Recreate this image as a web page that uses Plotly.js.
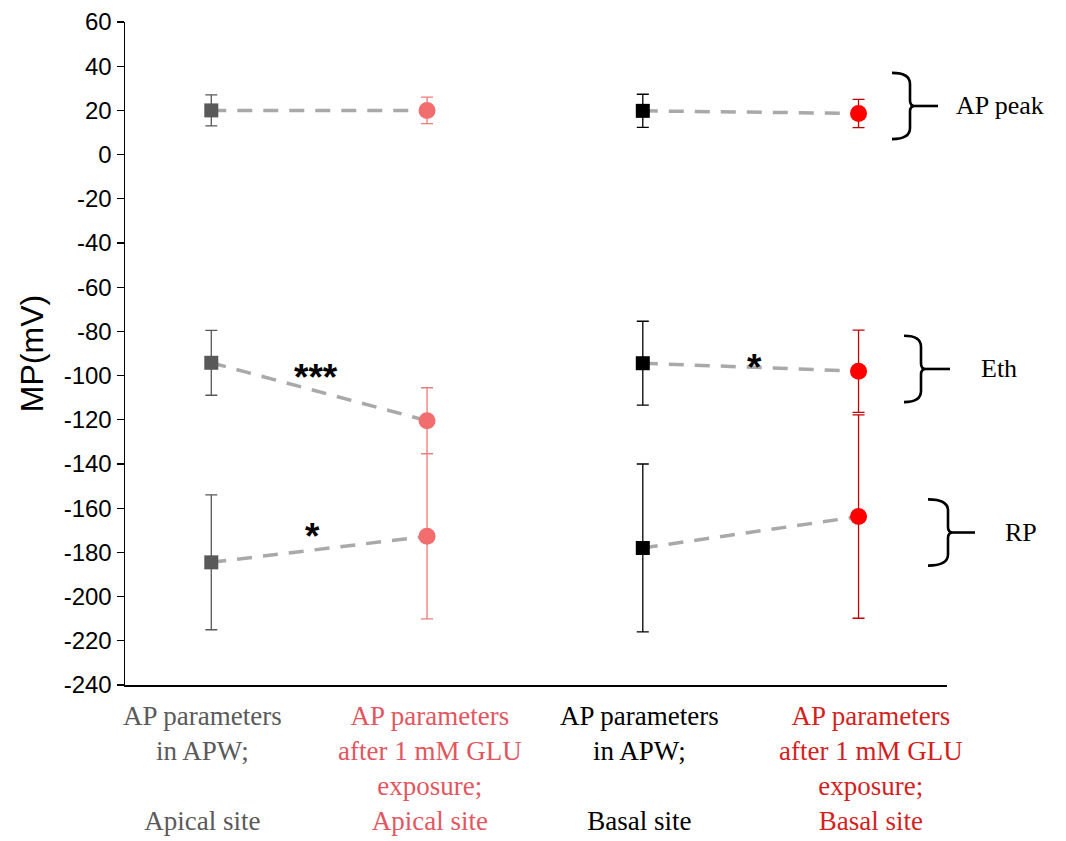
<!DOCTYPE html>
<html>
<head>
<meta charset="utf-8">
<script src="https://cdn.plot.ly/plotly-3.0.1.min.js"></script>
<style>html,body{margin:0;padding:0;background:#fff;}#chart{width:1066px;height:841px;}</style>
</head>
<body>
<div id="chart"></div>
<script>
// ---- data ----
const groups = ['Apical APW', 'Apical GLU', 'Basal APW', 'Basal GLU'];
const peakMean = [20, 20, 19.8, 18.6];
const peakErr  = [7, 6, 7.5, 6.4];
const ethMean  = [-94.2, -120.4, -94.4, -98];
const ethErr   = [14.7, 14.9, 19, 18.6];
const rpMean   = [-184.5, -172.7, -178, -163.8];
const rpErr    = [30.5, 37.4, 38, 46];

const yTickVals = [60, 40, 20, 0, -20, -40, -60, -80, -100, -120, -140, -160, -180, -200, -220, -240];
const yTickText = ['60', '40', '20', '0', '-20', '-40', '-60', '-80', '-100', '-120', '-140', '-160', '-180', '-200', '-220', '-240'];

const groupLabels = [
  ['AP parameters', 'in APW;', '\u00a0', 'Apical site'],
  ['AP parameters', 'after 1 mM GLU', 'exposure;', 'Apical site'],
  ['AP parameters', 'in APW;', '\u00a0', 'Basal site'],
  ['AP parameters', 'after 1 mM GLU', 'exposure;', 'Basal site']
];
const paramLabels = ['AP peak', 'Eth', 'RP'];
const paramBraceMid = [22, -97, -171];
const sigLabels = ['***', '*', '*'];
const sigX = [0.485, 0.469, 2.519];
const sigY = [-95.7, -168, -91.4];

// ---- styles ----
const markerColors = ['#595959', '#f26d6d', '#000000', '#ff0000'];
const errColors    = ['#595959', '#f07a7a', '#000000', '#c00000'];
const labelColors  = ['#5a5a5a', '#e2575f', '#000000', '#d41f1f'];
const symbols      = ['square', 'circle', 'square', 'circle'];
const msizes       = [14, 17, 14, 17];
const labelShift   = [-9, 3, -3, 12];

const W = 1066, H = 841;
const M = {l: 125, r: 119, t: 22, b: 156};
const plotW = W - M.l - M.r;
const px2paper = px => (px - M.l) / plotW;

const traces = [];
const means = [peakMean, ethMean, rpMean];
const pairs = [[0, 1], [2, 3]];

// dashed connecting lines
pairs.forEach(p => {
  means.forEach(m => {
    traces.push({
      x: [p[0], p[1]], y: [m[p[0]], m[p[1]]],
      mode: 'lines', type: 'scatter', hoverinfo: 'skip', showlegend: false,
      line: {color: '#a9a9a9', width: 3.5, dash: '15px,11px'}
    });
  });
});

// markers with error bars
groups.forEach((g, i) => {
  traces.push({
    name: g,
    x: [i, i, i],
    y: [peakMean[i], ethMean[i], rpMean[i]],
    mode: 'markers', type: 'scatter', showlegend: false, cliponaxis: false,
    marker: {symbol: symbols[i], size: msizes[i], color: markerColors[i]},
    error_y: {type: 'data', array: [peakErr[i], ethErr[i], rpErr[i]],
              visible: true, color: errColors[i], thickness: 1.3, width: 6}
  });
});

const annotations = [];
// category labels below axis
groupLabels.forEach((lines, i) => {
  annotations.push({
    x: i, xref: 'x', y: 0, yref: 'paper', yanchor: 'top', xanchor: 'center',
    yshift: -14, xshift: labelShift[i],
    text: lines.join('<br>'), showarrow: false, align: 'center',
    font: {family: 'Liberation Serif, Times New Roman, serif', size: 27, color: labelColors[i]}
  });
});
// significance stars
sigLabels.forEach((s, i) => {
  annotations.push({
    x: sigX[i], y: sigY[i], xref: 'x', yref: 'y', text: '<b>' + s + '</b>', showarrow: false,
    yshift: -11,
    font: {family: 'Liberation Sans, Arial, sans-serif', size: 37, color: '#000'}
  });
});

// braces + labels
const braceGeom = [
  {left: 892, vert: 910, tick: 938, textX: 1000},
  {left: 904, vert: 921, tick: 950, textX: 999},
  {left: 928, vert: 948, tick: 975, textX: 1021}
];
const braceHalf = 15;
const shapes = [];
paramLabels.forEach((lab, i) => {
  const g = braceGeom[i];
  const x0 = px2paper(g.left), xv = px2paper(g.vert), xt = px2paper(g.vert + 5), xe = px2paper(g.tick);
  const mid = paramBraceMid[i], top = mid + braceHalf, bot = mid - braceHalf;
  const r = 5;
  const path = `M ${x0},${top} Q ${xv},${top} ${xv},${top - r} L ${xv},${mid + 2.5} Q ${xv},${mid} ${xt},${mid} ` +
               `Q ${xv},${mid} ${xv},${mid - 2.5} L ${xv},${bot + r} Q ${xv},${bot} ${x0},${bot}`;
  shapes.push({type: 'path', xref: 'paper', yref: 'y', path: path,
               line: {color: '#000', width: 2.6}});
  shapes.push({type: 'line', xref: 'paper', yref: 'y', x0: xt, x1: xe, y0: mid, y1: mid,
               line: {color: '#000', width: 2.6}});
  annotations.push({
    x: px2paper(g.textX), xref: 'paper', y: mid, yref: 'y', text: lab, showarrow: false,
    xanchor: 'center',
    font: {family: 'Liberation Serif, Times New Roman, serif', size: 26, color: '#000'}
  });
});

const layout = {
  width: W, height: H,
  margin: M,
  paper_bgcolor: '#fff', plot_bgcolor: '#fff',
  showlegend: false,
  xaxis: {
    range: [-0.4, 3.41], showgrid: false, zeroline: false, showticklabels: false,
    ticks: '', showline: true, linecolor: '#000', linewidth: 2, fixedrange: true
  },
  yaxis: {
    range: [-240, 60], tickmode: 'array', tickvals: yTickVals, ticktext: yTickText,
    showgrid: false, zeroline: false,
    ticks: 'outside', ticklen: 7, tickwidth: 1.3, tickcolor: '#000',
    showline: true, linecolor: '#000', linewidth: 1.5,
    tickfont: {family: 'Liberation Sans, Arial, sans-serif', size: 24, color: '#000'},
    title: {text: 'MP(mV)', standoff: 10,
            font: {family: 'Liberation Sans, Arial, sans-serif', size: 32, color: '#000'}}
  },
  annotations: annotations,
  shapes: shapes
};

Plotly.newPlot('chart', traces, layout, {displayModeBar: false, staticPlot: true});
</script>
</body>
</html>
